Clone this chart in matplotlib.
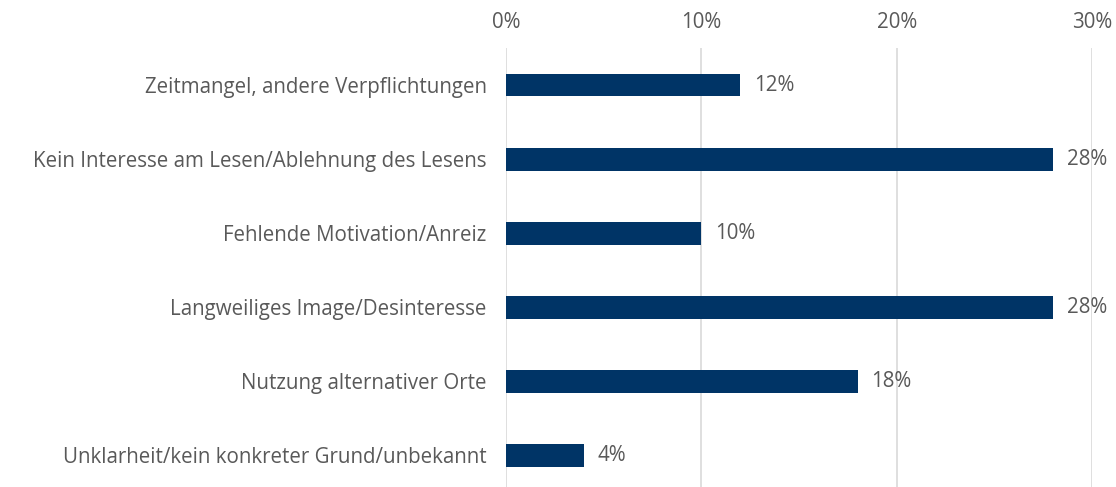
import matplotlib
matplotlib.use("Agg")
import matplotlib.pyplot as plt
from matplotlib.ticker import FuncFormatter

categories = [
    "Zeitmangel, andere Verpflichtungen",
    "Kein Interesse am Lesen/Ablehnung des Lesens",
    "Fehlende Motivation/Anreiz",
    "Langweiliges Image/Desinteresse",
    "Nutzung alternativer Orte",
    "Unklarheit/kein konkreter Grund/unbekannt",
]
values = [12, 28, 10, 28, 18, 4]
ticks = [0, 10, 20, 30]

BAR = "#003466"
TEXT = "#595959"
GRID = "#d9d9d9"
FS = 14.8

plt.rcParams["font.family"] = ["Open Sans", "DejaVu Sans"]

W, H = 1116, 487
fig = plt.figure(figsize=(W / 100, H / 100), dpi=100)
ax = fig.add_axes([506 / W, 0, (1092 - 506) / W, (487 - 48) / H])

y = list(range(len(categories)))
ax.barh(y, values, height=0.31, color=BAR, zorder=3)
for yi, v in zip(y, values):
    ax.text(v + 0.7, yi, f"{v}%", va="center", ha="left", fontsize=FS, color=TEXT)

ax.set_xlim(0, 30)
ax.set_ylim(len(categories) - 0.57, -0.5)
ax.set_xticks(ticks)
ax.xaxis.set_major_formatter(FuncFormatter(lambda x, _: f"{x:.0f}%"))
ax.xaxis.tick_top()
ax.tick_params(axis="x", length=0, pad=11, labelsize=FS, labelcolor=TEXT)
ax.set_yticks(y)
ax.set_yticklabels(categories)
ax.tick_params(axis="y", length=0, pad=14, labelsize=FS, labelcolor=TEXT)
ax.grid(axis="x", color=GRID, linewidth=1.2, zorder=0)
for s in ax.spines.values():
    s.set_visible(False)

fig.savefig("out.png", dpi=100)
